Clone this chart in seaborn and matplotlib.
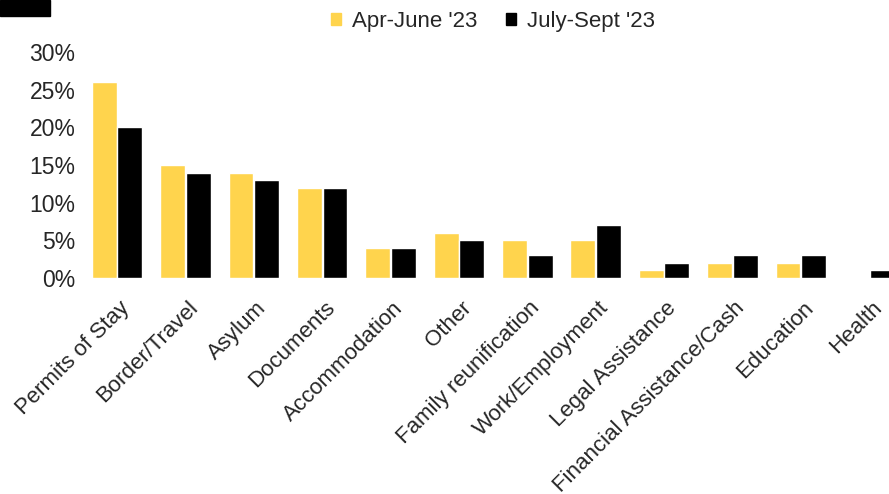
import matplotlib
matplotlib.use("Agg")
import matplotlib.pyplot as plt
from matplotlib.patches import Patch, Rectangle
from matplotlib.transforms import ScaledTranslation
import seaborn as sns
import pandas as pd

categories = ["Permits of Stay", "Border/Travel", "Asylum", "Documents", "Accommodation",
              "Other", "Family reunification", "Work/Employment", "Legal Assistance",
              "Financial Assistance/Cash", "Education", "Health"]
apr_june = [26, 15, 14, 12, 4, 6, 5, 5, 1, 2, 2, 0]
july_sept = [20, 14, 13, 12, 4, 5, 3, 7, 2, 3, 3, 1]
series = ["Apr-June '23", "July-Sept '23"]
colors = ["#FFD44D", "#000000"]


def main():
    df = pd.DataFrame({
        "Category": categories * 2,
        "Share": apr_june + july_sept,
        "Period": [series[0]] * len(categories) + [series[1]] * len(categories),
    })

    sns.set_theme(style="white")
    plt.rcParams["font.family"] = ["Liberation Sans", "DejaVu Sans"]

    fig = plt.figure(figsize=(8.89, 4.94), dpi=100)
    ax = fig.add_axes([85 / 889, 1 - 278 / 494, 1 - 85 / 889, (278 - 52) / 494])
    sns.barplot(data=df, x="Category", y="Share", hue="Period", palette=colors,
                width=0.75, gap=0.03, ax=ax, legend=False, saturation=1)

    ax.set_xlim(-0.468, 11.29)
    ax.set_ylim(0, 30)
    ax.set_yticks(range(0, 31, 5))
    ax.set_yticklabels([f"{v}%" for v in range(0, 31, 5)], fontsize=16.5)
    ax.set_xticks(range(len(categories)))
    ax.set_xticklabels(categories, rotation=45, ha="right", va="top",
                       rotation_mode="anchor", fontsize=16)
    ax.tick_params(axis="y", length=0, pad=7)
    ax.tick_params(axis="x", length=0, pad=14)
    shift = ScaledTranslation(2 / 100, 0, fig.dpi_scale_trans)
    for lab in ax.get_xticklabels():
        lab.set_transform(lab.get_transform() + shift)
    ax.set_xlabel("")
    ax.set_ylabel("")
    sns.despine(ax=ax, left=True, bottom=True)

    handles = [Patch(color=c, label=s) for c, s in zip(colors, series)]
    fig.legend(handles=handles, loc="center", bbox_to_anchor=(493 / 889, 1 - 21 / 494),
               ncol=2, frameon=False, fontsize=16, handlelength=0.45, handleheight=0.45,
               handletextpad=0.5, columnspacing=1.3)

    fig.patches.append(Rectangle((0, 1 - 16 / 494), 50 / 889, 16 / 494,
                                 transform=fig.transFigure, color="black"))

    fig.savefig("out.png", dpi=100)


if __name__ == "__main__":
    main()
